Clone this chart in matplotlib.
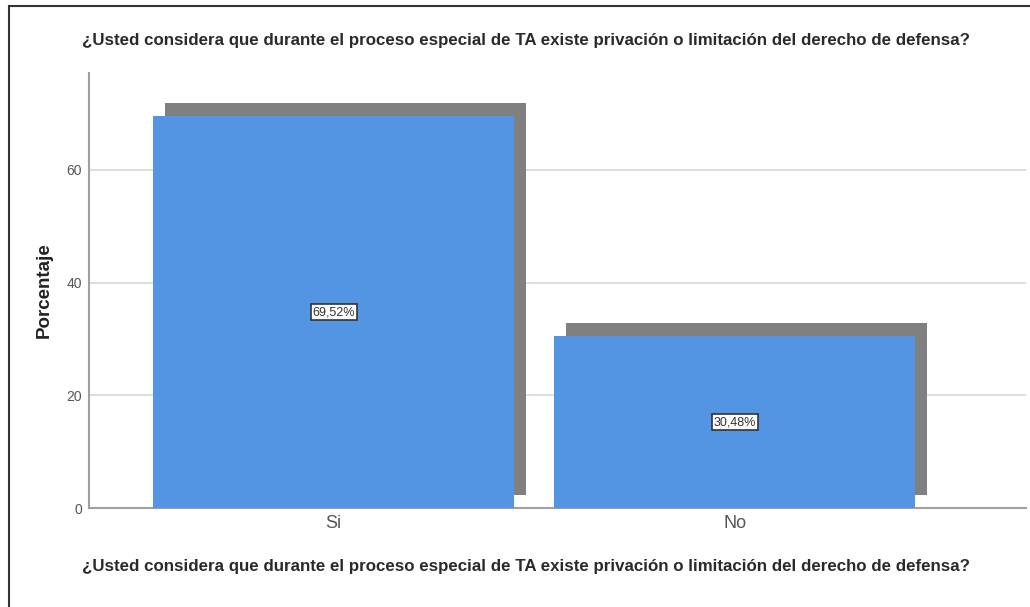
import matplotlib
matplotlib.use('Agg')
import matplotlib.pyplot as plt
from matplotlib.patches import Rectangle

plt.rcParams['font.family'] = ['Liberation Sans', 'DejaVu Sans']

categorias = ['Si', 'No']
porcentajes = [69.52, 30.48]
etiquetas = ['69,52%', '30,48%']
pregunta = '¿Usted considera que durante el proceso especial de TA existe privación o limitación del derecho de defensa?'

fig = plt.figure(figsize=(10.3, 6.07), dpi=100)
ax = fig.add_axes([0.0864, 0.163, 0.9096, 0.7167])

x = list(range(len(categorias)))
# sombra desplazada
ax.bar([i + 0.03 for i in x], porcentajes, width=0.9, bottom=2.3, color='#808080', zorder=2)
ax.bar(x, porcentajes, width=0.9, color='#5394E3', zorder=3)

for i, v in enumerate(porcentajes):
    ax.text(i, v / 2, etiquetas[i], ha='center', va='center', fontsize=9, color='#333333', zorder=4,
            bbox=dict(boxstyle='square,pad=0.15', fc='white', ec='#333333', lw=1.2))

ax.set_xlim(-0.61, 1.726)
ax.set_ylim(0, 77.2)
ax.set_yticks([0, 20, 40, 60])
ax.set_xticks(x)
ax.set_xticklabels(categorias, fontsize=13, color='#555555')
ax.tick_params(axis='y', labelsize=10, colors='#555555', length=0, pad=5)
ax.tick_params(axis='x', length=0, pad=5)
ax.yaxis.grid(True, color='#d8d8d8', lw=1.2, zorder=0)
ax.set_axisbelow(True)
for s in ['top', 'right']:
    ax.spines[s].set_visible(False)
for s in ['left', 'bottom']:
    ax.spines[s].set_color('#a0a0a0')
    ax.spines[s].set_linewidth(1.5)

ax.set_ylabel('Porcentaje', fontsize=13.5, fontweight='bold', color='#222222', labelpad=10)
fig.text(0.5 * (78 + 975) / 1030, 1 - 567 / 607, pregunta, ha='center', va='center',
         fontsize=12.2, fontweight='bold', color='#2a2a2a')
fig.text(0.5 * (78 + 975) / 1030, 1 - 41 / 607, pregunta, ha='center', va='center',
         fontsize=12.2, fontweight='bold', color='#2a2a2a')

# marco de la imagen
fig.patches.append(Rectangle((9 / 1030, -0.1), 1.2, 1 - 6 / 607 + 0.1, transform=fig.transFigure,
                             fill=False, ec='#333333', lw=1.5))

fig.savefig('out.png', dpi=100)
